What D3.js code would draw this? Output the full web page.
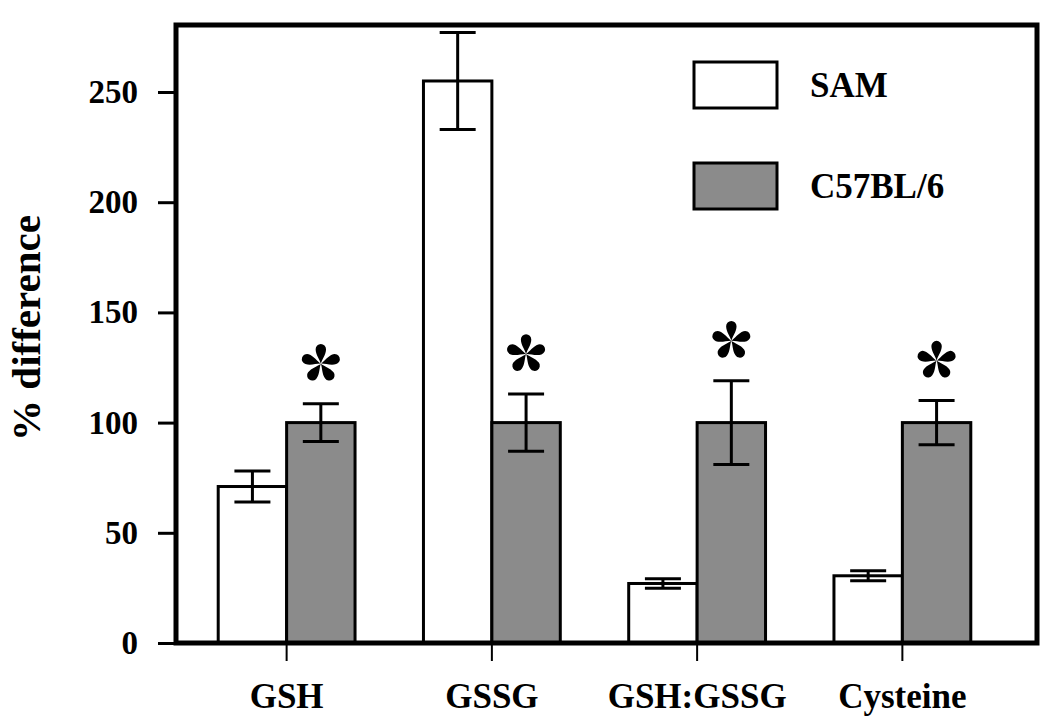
<!DOCTYPE html>
<html>
<head>
<meta charset="utf-8">
<script src="https://cdn.jsdelivr.net/npm/d3@7"></script>
<style>
  body { margin: 0; background: #fff; }
  text { font-family: "Liberation Serif", "Times New Roman", serif; font-weight: bold; fill: #000; }
</style>
</head>
<body>
<svg width="1050" height="721"></svg>
<script>
// data
var categories = ["GSH", "GSSG", "GSH:GSSG", "Cysteine"];
var seriesNames = ["SAM", "C57BL/6"];
var samValues = [71, 255, 27, 30.5];
var samErrors = [7, 22, 2.2, 2.3];
var c57Values = [100, 100, 100, 100];
var c57Errors = [8.6, 13, 19, 10];
var significant = [true, true, true, true];
var yTicks = [0, 50, 100, 150, 200, 250];

var colors = ["#ffffff", "#8b8b8b"];

var svg = d3.select("svg");
var margin = {top: 25, right: 13, bottom: 78, left: 176};
var width = +svg.attr("width") - margin.left - margin.right;
var height = +svg.attr("height") - margin.top - margin.bottom;

var g = svg.append("g")
  .attr("transform", "translate(" + margin.left + "," + margin.top + ")");

// build rows for the grouped bars
var data = categories.map(function(c, i) {
  return {
    cat: c,
    bars: [
      {key: seriesNames[0], value: samValues[i], err: samErrors[i]},
      {key: seriesNames[1], value: c57Values[i], err: c57Errors[i]}
    ],
    sig: significant[i]
  };
});

var x0 = d3.scaleBand().domain(categories).range([8, 829]).padding(0);
var x1 = d3.scaleBand().domain(seriesNames).range([0, x0.bandwidth()])
  .paddingInner(0).paddingOuter(0.5);
var y = d3.scaleLinear().domain([0, 280.4]).range([height, 0]);
var color = d3.scaleOrdinal().domain(seriesNames).range(colors);

// bars
var groups = g.selectAll(".group")
  .data(data)
  .enter().append("g")
  .attr("class", "group")
  .attr("transform", function(d) { return "translate(" + x0(d.cat) + ",0)"; });

groups.selectAll("rect")
  .data(function(d) { return d.bars; })
  .enter().append("rect")
  .attr("x", function(d) { return x1(d.key); })
  .attr("y", function(d) { return y(d.value); })
  .attr("width", x1.bandwidth())
  .attr("height", function(d) { return y(0) - y(d.value); })
  .style("fill", function(d) { return color(d.key); })
  .style("stroke", "#000")
  .style("stroke-width", 3);

// error bars
var capW = 36;
var err = groups.selectAll(".err")
  .data(function(d) { return d.bars; })
  .enter().append("g")
  .attr("class", "err")
  .style("stroke", "#000")
  .style("stroke-width", 3);

err.append("line")
  .attr("x1", function(d) { return x1(d.key) + x1.bandwidth() / 2; })
  .attr("x2", function(d) { return x1(d.key) + x1.bandwidth() / 2; })
  .attr("y1", function(d) { return y(d.value + d.err); })
  .attr("y2", function(d) { return y(d.value - d.err); });

err.append("line")
  .attr("x1", function(d) { return x1(d.key) + x1.bandwidth() / 2 - capW / 2; })
  .attr("x2", function(d) { return x1(d.key) + x1.bandwidth() / 2 + capW / 2; })
  .attr("y1", function(d) { return y(d.value + d.err); })
  .attr("y2", function(d) { return y(d.value + d.err); });

err.append("line")
  .attr("x1", function(d) { return x1(d.key) + x1.bandwidth() / 2 - capW / 2; })
  .attr("x2", function(d) { return x1(d.key) + x1.bandwidth() / 2 + capW / 2; })
  .attr("y1", function(d) { return y(d.value - d.err); })
  .attr("y2", function(d) { return y(d.value - d.err); });

// significance asterisks over the C57BL/6 bars: five teardrop petals
var petal = "M0,0 C-1,-4 -5.2,-9 -5.2,-14.5 A5.2,5.2 0 1,1 5.2,-14.5 C5.2,-9 1,-4 0,0 Z";
var stars = groups.filter(function(d) { return d.sig; })
  .append("g")
  .attr("transform", function(d) {
    return "translate(" + (x1(seriesNames[1]) + x1.bandwidth() / 2) + "," +
      (y(d.bars[1].value + d.bars[1].err) - 40) + ")";
  });

stars.selectAll("path")
  .data(d3.range(5))
  .enter().append("path")
  .attr("d", petal)
  .attr("transform", function(k) { return "rotate(" + (k * 72) + ")"; })
  .style("fill", "#000");

// y axis
var yAxis = g.append("g")
  .call(d3.axisLeft(y).tickValues(yTicks).tickSize(18).tickPadding(20));
yAxis.select(".domain").remove();
yAxis.selectAll("line").style("stroke-width", 3);
yAxis.selectAll("text")
  .style("font-family", "'Liberation Serif', serif")
  .style("font-weight", "bold")
  .style("font-size", "33px");

// x axis
var xAxis = g.append("g")
  .attr("transform", "translate(0," + height + ")")
  .call(d3.axisBottom(x0).tickSize(18).tickPadding(22));
xAxis.select(".domain").remove();
xAxis.selectAll("line").style("stroke-width", 2);
xAxis.selectAll("text")
  .style("font-family", "'Liberation Serif', serif")
  .style("font-weight", "bold")
  .style("font-size", "35px");

// frame
g.append("rect")
  .attr("x", 0)
  .attr("y", 0)
  .attr("width", width)
  .attr("height", height)
  .style("fill", "none")
  .style("stroke", "#000")
  .style("stroke-width", 5);

// y axis title
svg.append("text")
  .attr("transform", "translate(40,328) rotate(-90)")
  .attr("text-anchor", "middle")
  .style("font-size", "41px")
  .text("% difference");

// legend
var legend = g.selectAll(".legend")
  .data(seriesNames)
  .enter().append("g")
  .attr("class", "legend")
  .attr("transform", function(d, i) { return "translate(518," + (37 + 101 * i) + ")"; });

legend.append("rect")
  .attr("width", 83)
  .attr("height", 46)
  .style("fill", function(d) { return color(d); })
  .style("stroke", "#000")
  .style("stroke-width", 3);

legend.append("text")
  .attr("x", 116)
  .attr("y", 23)
  .attr("dy", "0.35em")
  .style("font-size", "35px")
  .text(function(d) { return d; });
</script>
</body>
</html>
